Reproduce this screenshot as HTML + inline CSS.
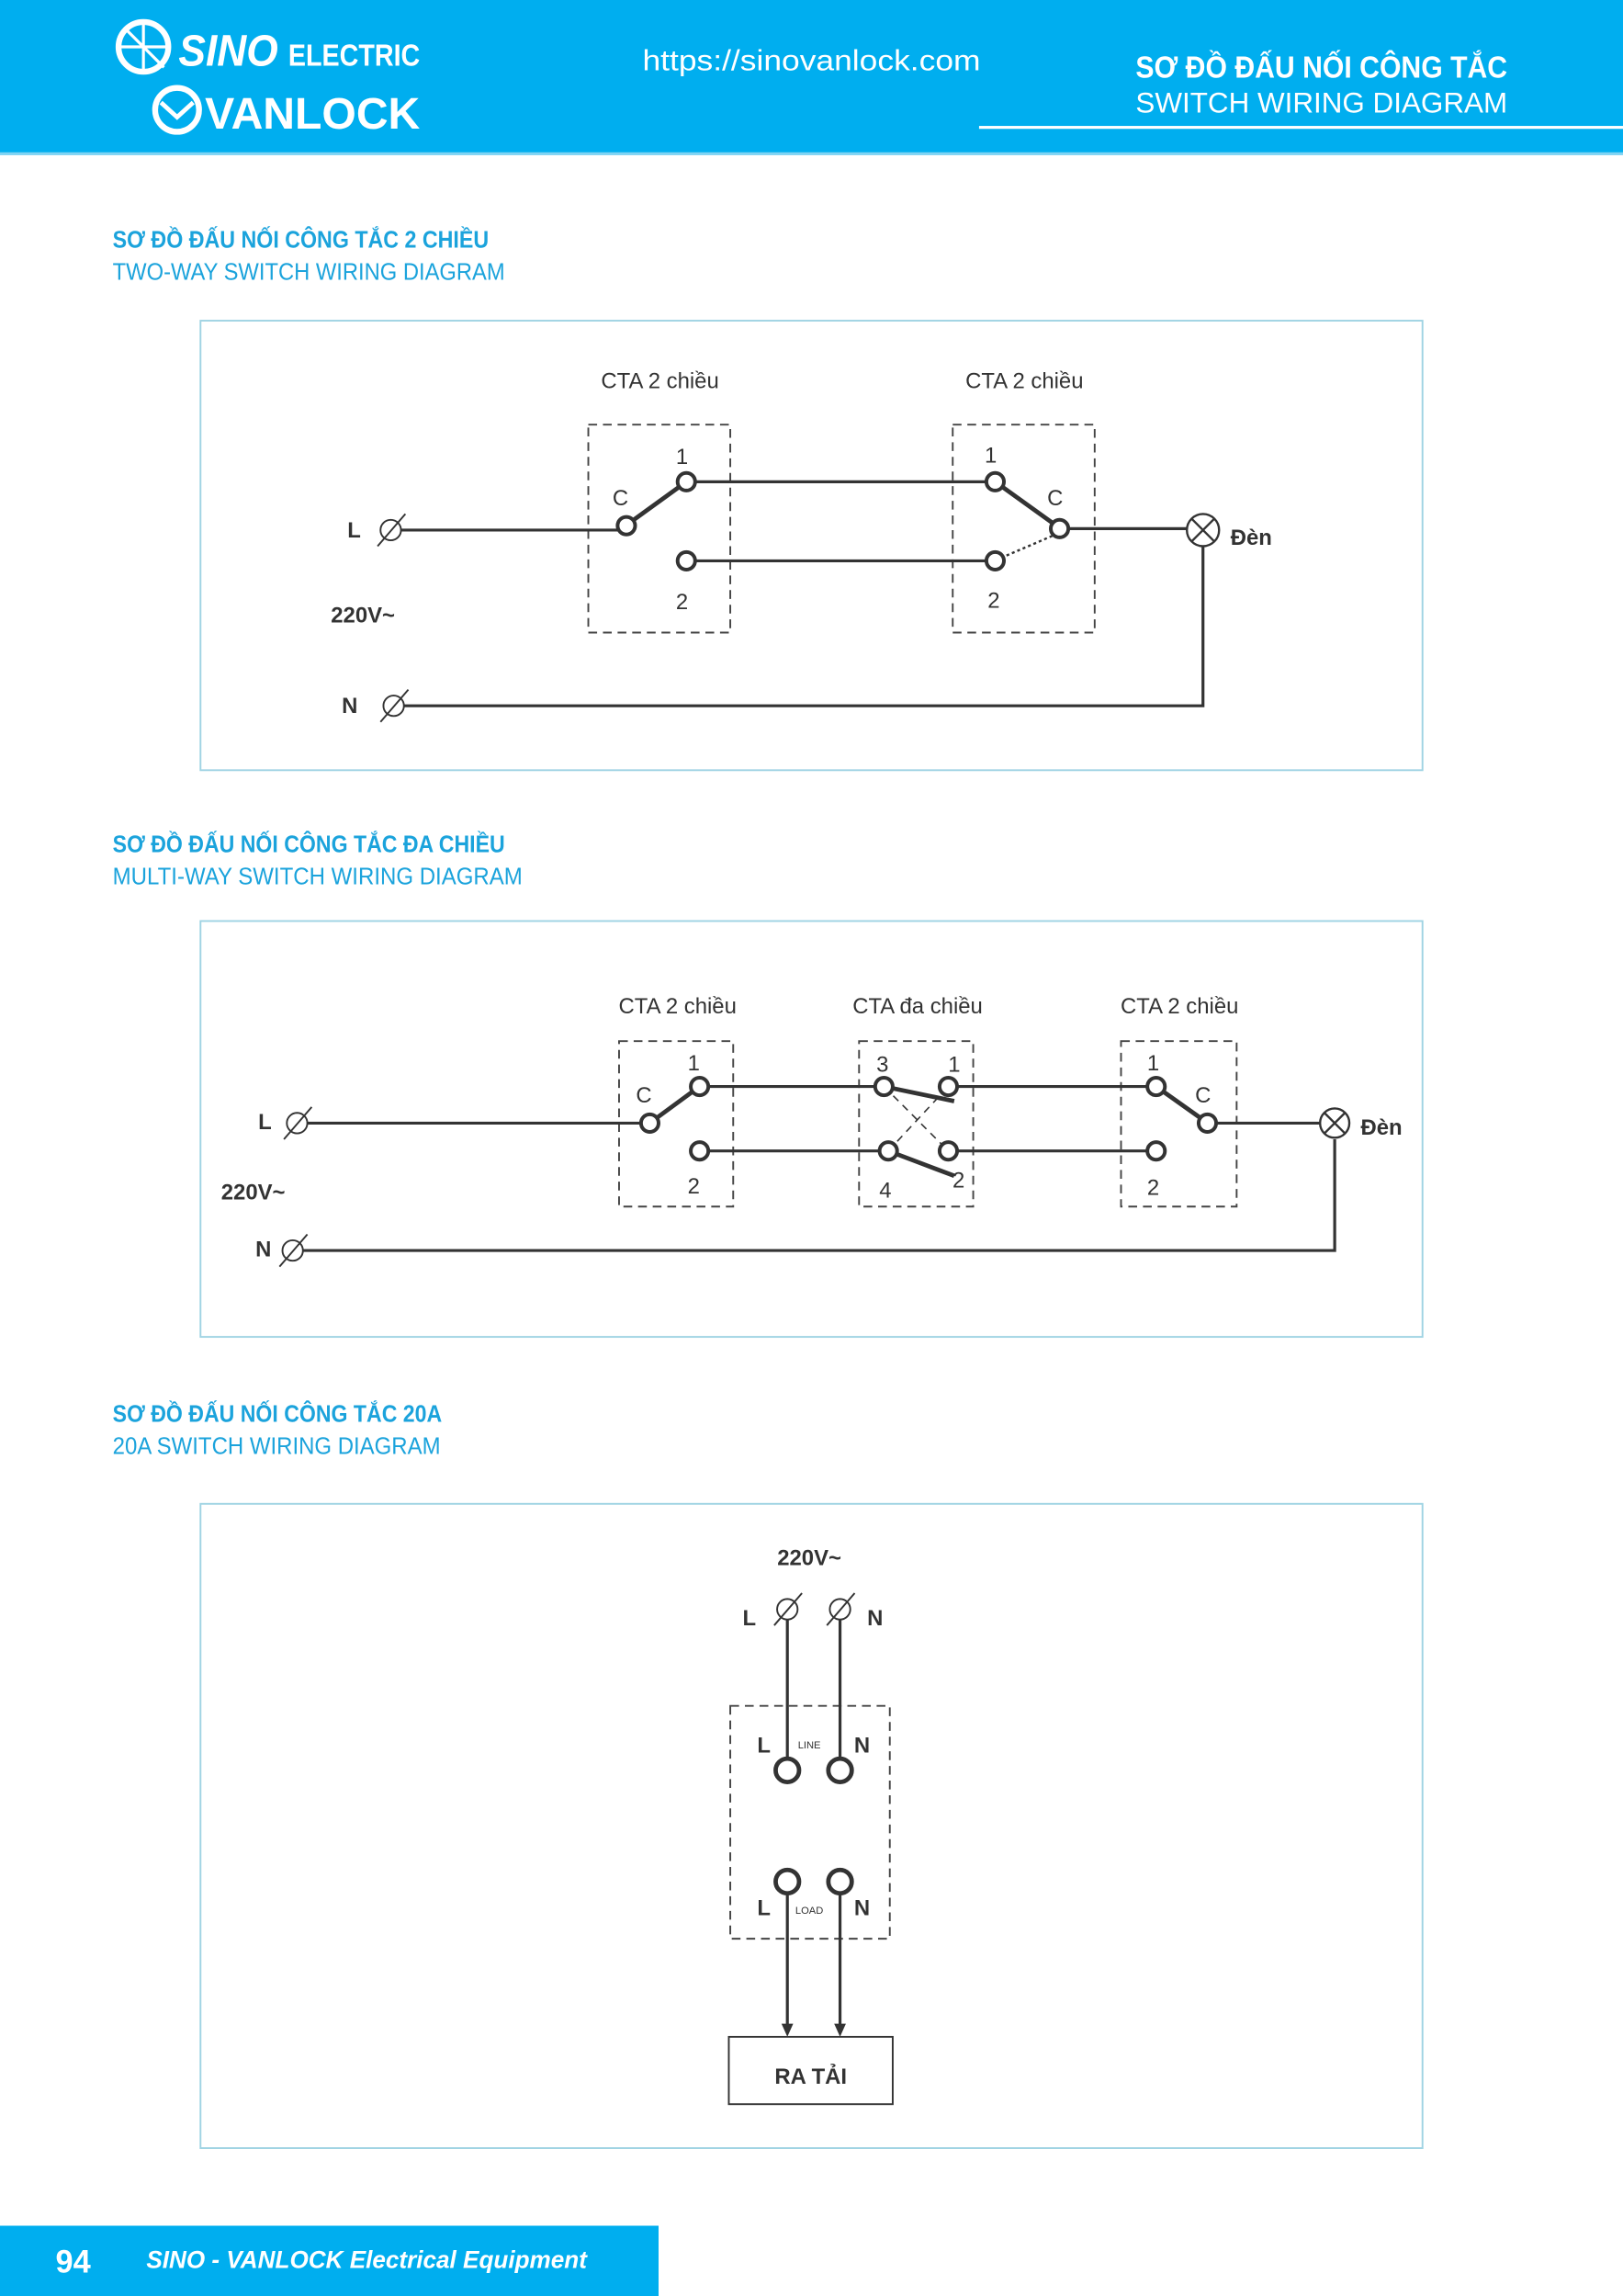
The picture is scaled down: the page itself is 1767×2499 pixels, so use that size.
<!DOCTYPE html>
<html><head><meta charset="utf-8"><style>html,body{margin:0;padding:0;background:#fff}svg{display:block}</style></head><body>
<svg width="1767" height="2499" viewBox="0 0 1109 1568" preserveAspectRatio="none" xmlns="http://www.w3.org/2000/svg" font-family="Liberation Sans, sans-serif">
<rect x="0" y="0" width="1109" height="105" fill="#00AEEF"/>
<rect x="0" y="104" width="1109" height="2" fill="#7fd3f3"/>
<!-- logo -->
<circle cx="98" cy="32" r="17" fill="none" stroke="#fff" stroke-width="4"/>
<path d="M86 20 L112 46 M98 15 V49 M82 32 H114" stroke="#fff" stroke-width="2"/>
<text x="122" y="45" fill="#fff" font-weight="bold" font-style="italic" font-size="30" textLength="68" lengthAdjust="spacingAndGlyphs">SINO</text>
<text x="197" y="45" fill="#fff" font-weight="bold" font-size="21" textLength="90" lengthAdjust="spacingAndGlyphs">ELECTRIC</text>
<circle cx="121" cy="75" r="15" fill="none" stroke="#fff" stroke-width="4"/>
<path d="M110 70 L121 80 L132 70" stroke="#fff" stroke-width="3" fill="none"/>
<text x="140" y="88" fill="#fff" font-weight="bold" font-size="30" textLength="147" lengthAdjust="spacingAndGlyphs">VANLOCK</text>
<text x="439" y="48" fill="#fff" font-size="20" textLength="231" lengthAdjust="spacingAndGlyphs">https://sinovanlock.com</text>
<text x="776" y="53" fill="#fff" font-weight="bold" font-size="21" textLength="254" lengthAdjust="spacingAndGlyphs">SƠ ĐỒ ĐẤU NỐI CÔNG TẮC</text>
<text x="776" y="77" fill="#fff" font-size="20" textLength="254" lengthAdjust="spacingAndGlyphs">SWITCH WIRING DIAGRAM</text>
<rect x="669" y="86" width="440" height="2" fill="#fff"/>

<g fill="#1ba3dc">
<text x="77" y="169" font-weight="bold" font-size="16" textLength="257" lengthAdjust="spacingAndGlyphs">SƠ ĐỒ ĐẤU NỐI CÔNG TẮC 2 CHIỀU</text>
<text x="77" y="191" font-size="16" textLength="268" lengthAdjust="spacingAndGlyphs">TWO-WAY SWITCH WIRING DIAGRAM</text>
<text x="77" y="582" font-weight="bold" font-size="16" textLength="268" lengthAdjust="spacingAndGlyphs">SƠ ĐỒ ĐẤU NỐI CÔNG TẮC ĐA CHIỀU</text>
<text x="77" y="604" font-size="16" textLength="280" lengthAdjust="spacingAndGlyphs">MULTI-WAY SWITCH WIRING DIAGRAM</text>
<text x="77" y="971" font-weight="bold" font-size="16" textLength="225" lengthAdjust="spacingAndGlyphs">SƠ ĐỒ ĐẤU NỐI CÔNG TẮC 20A</text>
<text x="77" y="993" font-size="16" textLength="224" lengthAdjust="spacingAndGlyphs">20A SWITCH WIRING DIAGRAM</text>
</g>

<g fill="none" stroke="#9fd3e3" stroke-width="1.2">
<rect x="137" y="219" width="835" height="307"/>
<rect x="137" y="629" width="835" height="284"/>
<rect x="137" y="1027" width="835" height="440"/>
</g>

<g fill="#333" font-size="15" text-anchor="middle">
<!-- diagram 1 -->
<text x="451" y="265">CTA 2 chiều</text>
<text x="700" y="265">CTA 2 chiều</text>
<text x="466" y="317">1</text><text x="424" y="345">C</text><text x="466" y="416">2</text>
<text x="677" y="316">1</text><text x="721" y="345">C</text><text x="679" y="415">2</text>
<text x="242" y="367" font-weight="bold">L</text>
<text x="239" y="487" font-weight="bold">N</text>
<text x="248" y="425" font-weight="bold">220V~</text>
<text x="855" y="372" font-weight="bold">Đèn</text>
<!-- diagram 2 -->
<text x="463" y="692">CTA 2 chiều</text>
<text x="627" y="692">CTA đa chiều</text>
<text x="806" y="692">CTA 2 chiều</text>
<text x="474" y="731">1</text><text x="440" y="753">C</text><text x="474" y="815">2</text>
<text x="603" y="732">3</text><text x="652" y="732">1</text><text x="605" y="818">4</text><text x="655" y="811">2</text>
<text x="788" y="731">1</text><text x="822" y="753">C</text><text x="788" y="816">2</text>
<text x="181" y="771" font-weight="bold">L</text>
<text x="180" y="858" font-weight="bold">N</text>
<text x="173" y="819" font-weight="bold">220V~</text>
<text x="944" y="775" font-weight="bold">Đèn</text>
<!-- diagram 3 -->
<text x="553" y="1069" font-weight="bold">220V~</text>
<text x="512" y="1110" font-weight="bold">L</text>
<text x="598" y="1110" font-weight="bold">N</text>
<text x="522" y="1197" font-weight="bold">L</text><text x="589" y="1197" font-weight="bold">N</text>
<text x="553" y="1194" font-size="7">LINE</text>
<text x="522" y="1308" font-weight="bold">L</text><text x="589" y="1308" font-weight="bold">N</text>
<text x="553" y="1307" font-size="7">LOAD</text>
<text x="554" y="1423" font-weight="bold">RA TẢI</text>
</g>

<g fill="none" stroke="#444" stroke-width="1.2" stroke-dasharray="6,4">
<rect x="402" y="290" width="97" height="142"/>
<rect x="651" y="290" width="97" height="142"/>
<rect x="423" y="711" width="78" height="113"/>
<rect x="587" y="711" width="78" height="113"/>
<rect x="766" y="711" width="79" height="113"/>
<rect x="499" y="1165" width="109" height="159"/>
</g>

<g fill="none" stroke="#333" stroke-width="2">
<!-- d1 -->
<path d="M274 362 H422 M475 329 H674 M475 383 H674 M730 361 H811 M822 373 V482 H276"/>
<path d="M433 355 L469 329 M719 357 L680 329" stroke-width="3"/>
<path d="M719 366 L684 381" stroke-width="1.5" stroke-dasharray="2,2"/>
<!-- d2 -->
<path d="M210 767 H438 M484 742 H598 M484 786 H601 M654 742 H785 M654 786 H785 M831 767 H902 M912 778 V854 H207"/>
<path d="M448 764 L478 742 M821 764 L790 742 M604 742 L652 752 M607 786 L652 803" stroke-width="3"/>
<path d="M604 742 L648 786 M607 786 L648 742" stroke-width="1" stroke-dasharray="5,4"/>
<!-- d3 -->
<path d="M538 1106 V1201 M574 1106 V1201 M538 1293 V1384 M574 1293 V1384"/>
<rect x="498" y="1391" width="112" height="46" stroke-width="1.2"/>
</g>
<g fill="#333"><path d="M534 1382 L542 1382 L538 1391Z M570 1382 L578 1382 L574 1391Z"/></g>

<g fill="#fff" stroke="#333" stroke-width="2.5">
<circle cx="428" cy="359" r="6"/><circle cx="469" cy="329" r="6"/><circle cx="469" cy="383" r="6"/>
<circle cx="680" cy="329" r="6"/><circle cx="680" cy="383" r="6"/><circle cx="724" cy="361" r="6"/>
<circle cx="444" cy="767" r="6"/><circle cx="478" cy="742" r="6"/><circle cx="478" cy="786" r="6"/>
<circle cx="604" cy="742" r="6"/><circle cx="648" cy="742" r="6"/><circle cx="607" cy="786" r="6"/><circle cx="648" cy="786" r="6"/>
<circle cx="790" cy="742" r="6"/><circle cx="790" cy="786" r="6"/><circle cx="825" cy="767" r="6"/>
<circle cx="538" cy="1209" r="8" stroke-width="3"/><circle cx="574" cy="1209" r="8" stroke-width="3"/>
<circle cx="538" cy="1285" r="8" stroke-width="3"/><circle cx="574" cy="1285" r="8" stroke-width="3"/>
</g>
<!-- lamps -->
<g fill="#fff" stroke="#333" stroke-width="1.5">
<circle cx="822" cy="362" r="11"/><path d="M814 354 L830 370 M830 354 L814 370"/>
<circle cx="912" cy="767" r="10"/><path d="M905 760 L919 774 M919 760 L905 774"/>
</g>
<!-- terminals -->
<g fill="none" stroke="#333" stroke-width="1.2">
<circle cx="267" cy="362" r="7"/><path d="M258 373 L277 351"/>
<circle cx="269" cy="482" r="7"/><path d="M260 493 L279 471"/>
<circle cx="203" cy="767" r="7"/><path d="M194 778 L213 756"/>
<circle cx="200" cy="854" r="7"/><path d="M191 865 L210 843"/>
<circle cx="538" cy="1099" r="7"/><path d="M529 1110 L548 1088"/>
<circle cx="574" cy="1099" r="7"/><path d="M565 1110 L584 1088"/>
</g>

<rect x="0" y="1520" width="450" height="48" fill="#00AEEF"/>
<text x="38" y="1552" fill="#fff" font-weight="bold" font-size="22" textLength="24" lengthAdjust="spacingAndGlyphs">94</text>
<text x="100" y="1549" fill="#fff" font-weight="bold" font-style="italic" font-size="17" textLength="301" lengthAdjust="spacingAndGlyphs">SINO - VANLOCK Electrical Equipment</text>
</svg>
</body></html>
